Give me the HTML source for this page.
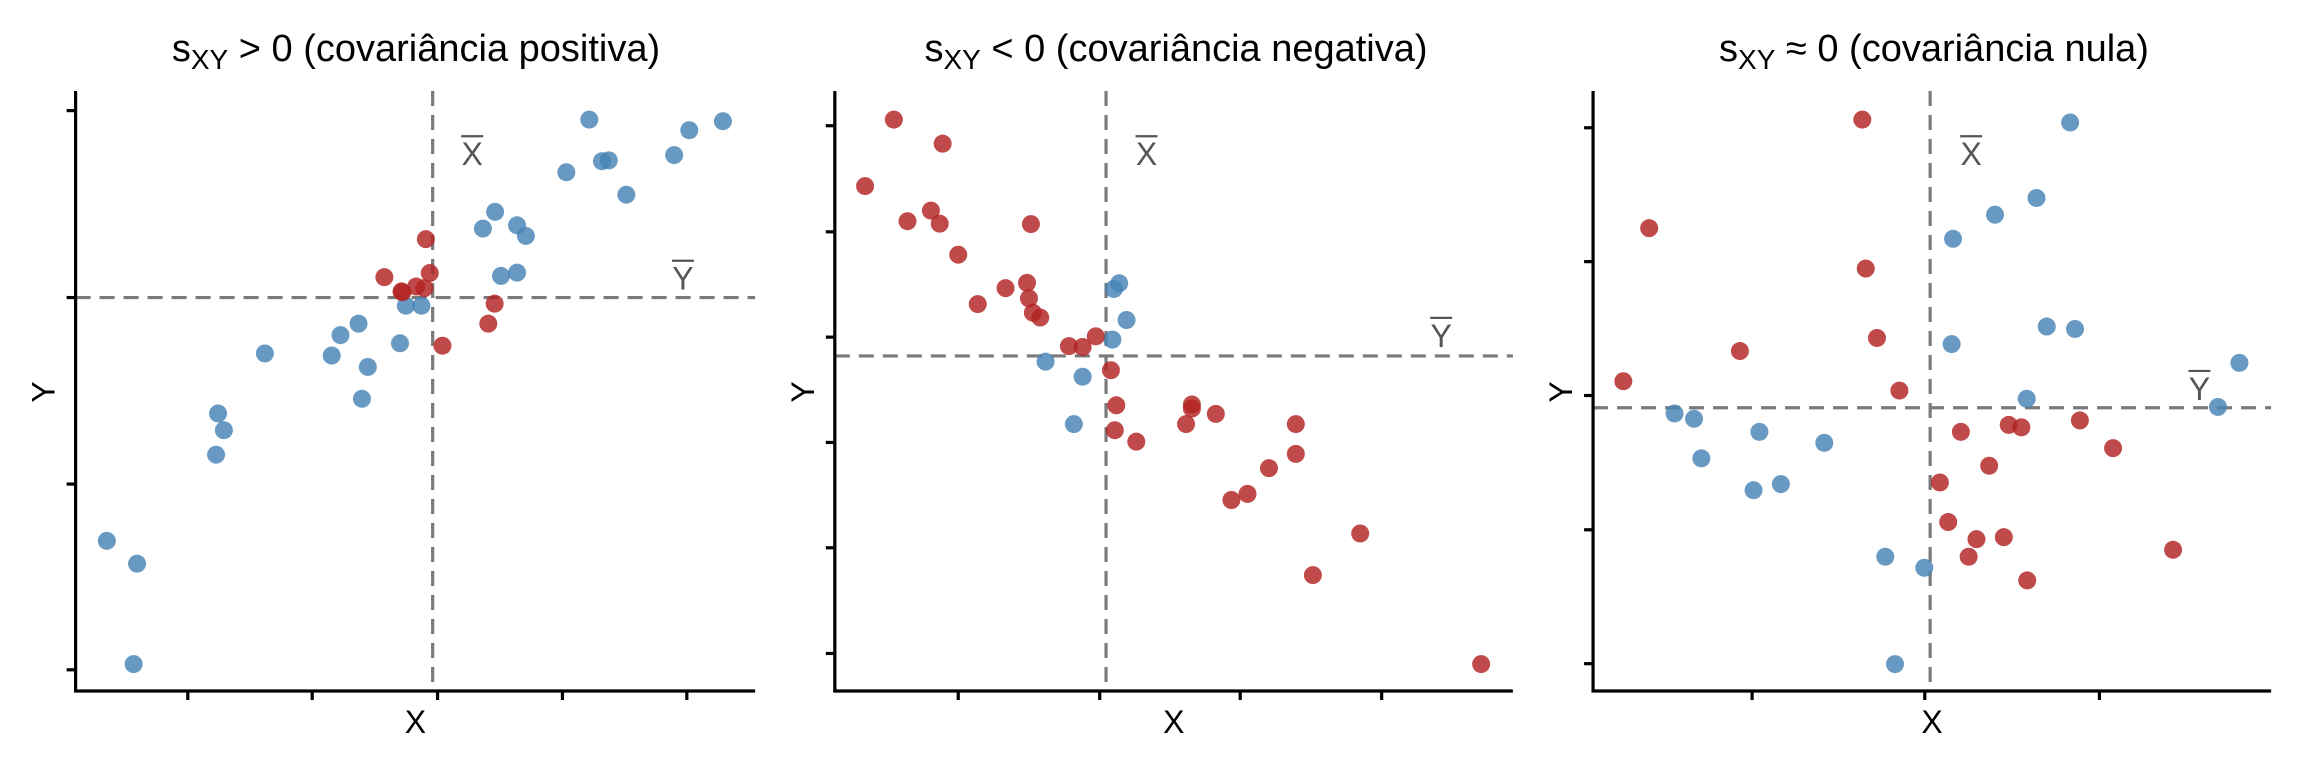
<!DOCTYPE html>
<html><head><meta charset="utf-8"><style>
html,body{margin:0;padding:0;background:#fff;}
svg{display:block;font-family:"Liberation Sans",Arial,sans-serif;}
</style></head><body>
<svg id="s" width="2304" height="768" viewBox="0 0 2304 768" xmlns="http://www.w3.org/2000/svg">
<text x="416" y="61" font-size="38" text-anchor="middle">s<tspan font-size="28" dy="8">XY</tspan><tspan dy="-8"> &gt; 0 (covariância positiva)</tspan></text>
<text x="1176" y="61" font-size="38" text-anchor="middle">s<tspan font-size="28" dy="8">XY</tspan><tspan dy="-8"> &lt; 0 (covariância negativa)</tspan></text>
<text x="1934" y="61" font-size="38" text-anchor="middle">s<tspan font-size="28" dy="8">XY</tspan><tspan dy="-8"> ≈ 0 (covariância nula)</tspan></text>
</svg>
<script>
var S=document.getElementById('s'),NS='http://www.w3.org/2000/svg';
function el(t,a,txt){var e=document.createElementNS(NS,t);for(var k in a)e.setAttribute(k,a[k]);if(txt)e.textContent=txt;S.appendChild(e);return e;}
var sx=2.05,sy=2.45;
function P(off,zx,zy){return [off+zx/sx,80+zy/sy];}
var panels=[
{off:0,ax:155,end:1548,yt:[75,533,990,1445],xt:[385,640,897,1153,1408],xb:887,yb:533,xl:[968,150],yl:[1400,455],
blue:[[219,1129],[281,1185],[274,1431],[447,817],[459,858],[443,918],[543,670],[680,675],[698,625],[735,597],[754,703],[742,781],[820,645],[832,553],[864,553],[990,364],[1015,323],[1060,356],[1078,382],[1027,480],[1060,472],[1161,226],[1208,97],[1234,199],[1248,197],[1284,281],[1382,184],[1413,123],[1482,101]],
red:[[873,390],[788,483],[881,473],[825,520],[853,506],[870,510],[1014,548],[1001,597],[907,651],[823,518]]},
{off:768,ax:137,end:1527,yt:[112,372,630,888,1146,1405],xt:[390,680,968,1258],xb:693,yb:676,xl:[776,150],yl:[1380,595],
red:[[258,97],[358,156],[199,260],[286,346],[334,320],[352,352],[539,353],[390,428],[430,549],[487,510],[531,497],[535,535],[543,570],[558,582],[617,652],[645,654],[672,628],[703,711],[714,797],[711,858],[755,886],[857,843],[869,795],[869,805],[918,818],[1082,843],[1082,916],[1027,951],[950,1029],[983,1014],[1214,1111],[1117,1213],[1462,1431]],
blue:[[709,512],[720,498],[735,588],[706,636],[569,690],[645,727],[627,843]]},
{off:1536,ax:117,end:1507,yt:[117,445,773,1102,1430],xt:[443,797,1155],xb:808,yb:803,xl:[892,150],yl:[1360,725],
red:[[669,97],[232,363],[676,462],[699,632],[418,664],[179,738],[745,761],[871,862],[969,845],[995,851],[1115,834],[1183,902],[929,945],[828,986],[845,1083],[903,1125],[959,1120],[887,1168],[1007,1226],[1306,1151]],
blue:[[1095,104],[1026,289],[941,330],[855,389],[1047,604],[1105,610],[852,647],[1442,693],[1006,781],[1398,801],[284,817],[324,830],[458,862],[591,889],[339,927],[446,1005],[502,990],[716,1168],[796,1195],[736,1431]]}
];
panels.forEach(function(p){
 var o=p.off, ax=o+p.ax/sx, end=o+p.end/sx, top=91, bot=691;
 var xb=o+p.xb/sx, yb=80+p.yb/sy;
 el('line',{x1:xb,y1:top,x2:xb,y2:bot,stroke:'#7a7a7a','stroke-width':3.2,'stroke-dasharray':'15 9'});
 el('line',{x1:ax,y1:yb,x2:end,y2:yb,stroke:'#7a7a7a','stroke-width':3.2,'stroke-dasharray':'15 9'});
 p.blue.forEach(function(c){var q=P(o,c[0],c[1]);el('circle',{cx:q[0],cy:q[1],r:9,fill:'#4682b4','fill-opacity':0.82});});
 p.red.forEach(function(c){var q=P(o,c[0],c[1]);el('circle',{cx:q[0],cy:q[1],r:9,fill:'#b22222','fill-opacity':0.82});});
 el('line',{x1:ax,y1:top,x2:ax,y2:bot+1.5,stroke:'#000','stroke-width':3.2});
 el('line',{x1:ax-1.5,y1:bot,x2:end,y2:bot,stroke:'#000','stroke-width':3.2});
 p.yt.forEach(function(t){var y=80+t/sy;el('line',{x1:ax-9,y1:y,x2:ax,y2:y,stroke:'#000','stroke-width':3.2});});
 p.xt.forEach(function(t){var x=o+t/sx;el('line',{x1:x,y1:bot,x2:x,y2:bot+9,stroke:'#000','stroke-width':3.2});});
 var xl=P(o,p.xl[0],p.xl[1]), yl=P(o,p.yl[0],p.yl[1]);
 el('text',{x:xl[0],y:xl[1]+24,'font-size':32,fill:'#555','text-anchor':'middle'},'X');
 el('line',{x1:xl[0]-11,y1:xl[1]-5,x2:xl[0]+11,y2:xl[1]-5,stroke:'#555','stroke-width':2.2});
 el('text',{x:yl[0],y:yl[1]+24,'font-size':32,fill:'#555','text-anchor':'middle'},'Y');
 el('line',{x1:yl[0]-11,y1:yl[1]-5,x2:yl[0]+11,y2:yl[1]-5,stroke:'#555','stroke-width':2.2});
 el('text',{x:(ax+end)/2,y:733,'font-size':32,'text-anchor':'middle'},'X');
 var yx=ax-21, yy=392;
 el('text',{x:yx,y:yy,'font-size':32,'text-anchor':'middle',transform:'rotate(-90 '+yx+' '+yy+')'},'Y');
});
</script>
</body></html>
